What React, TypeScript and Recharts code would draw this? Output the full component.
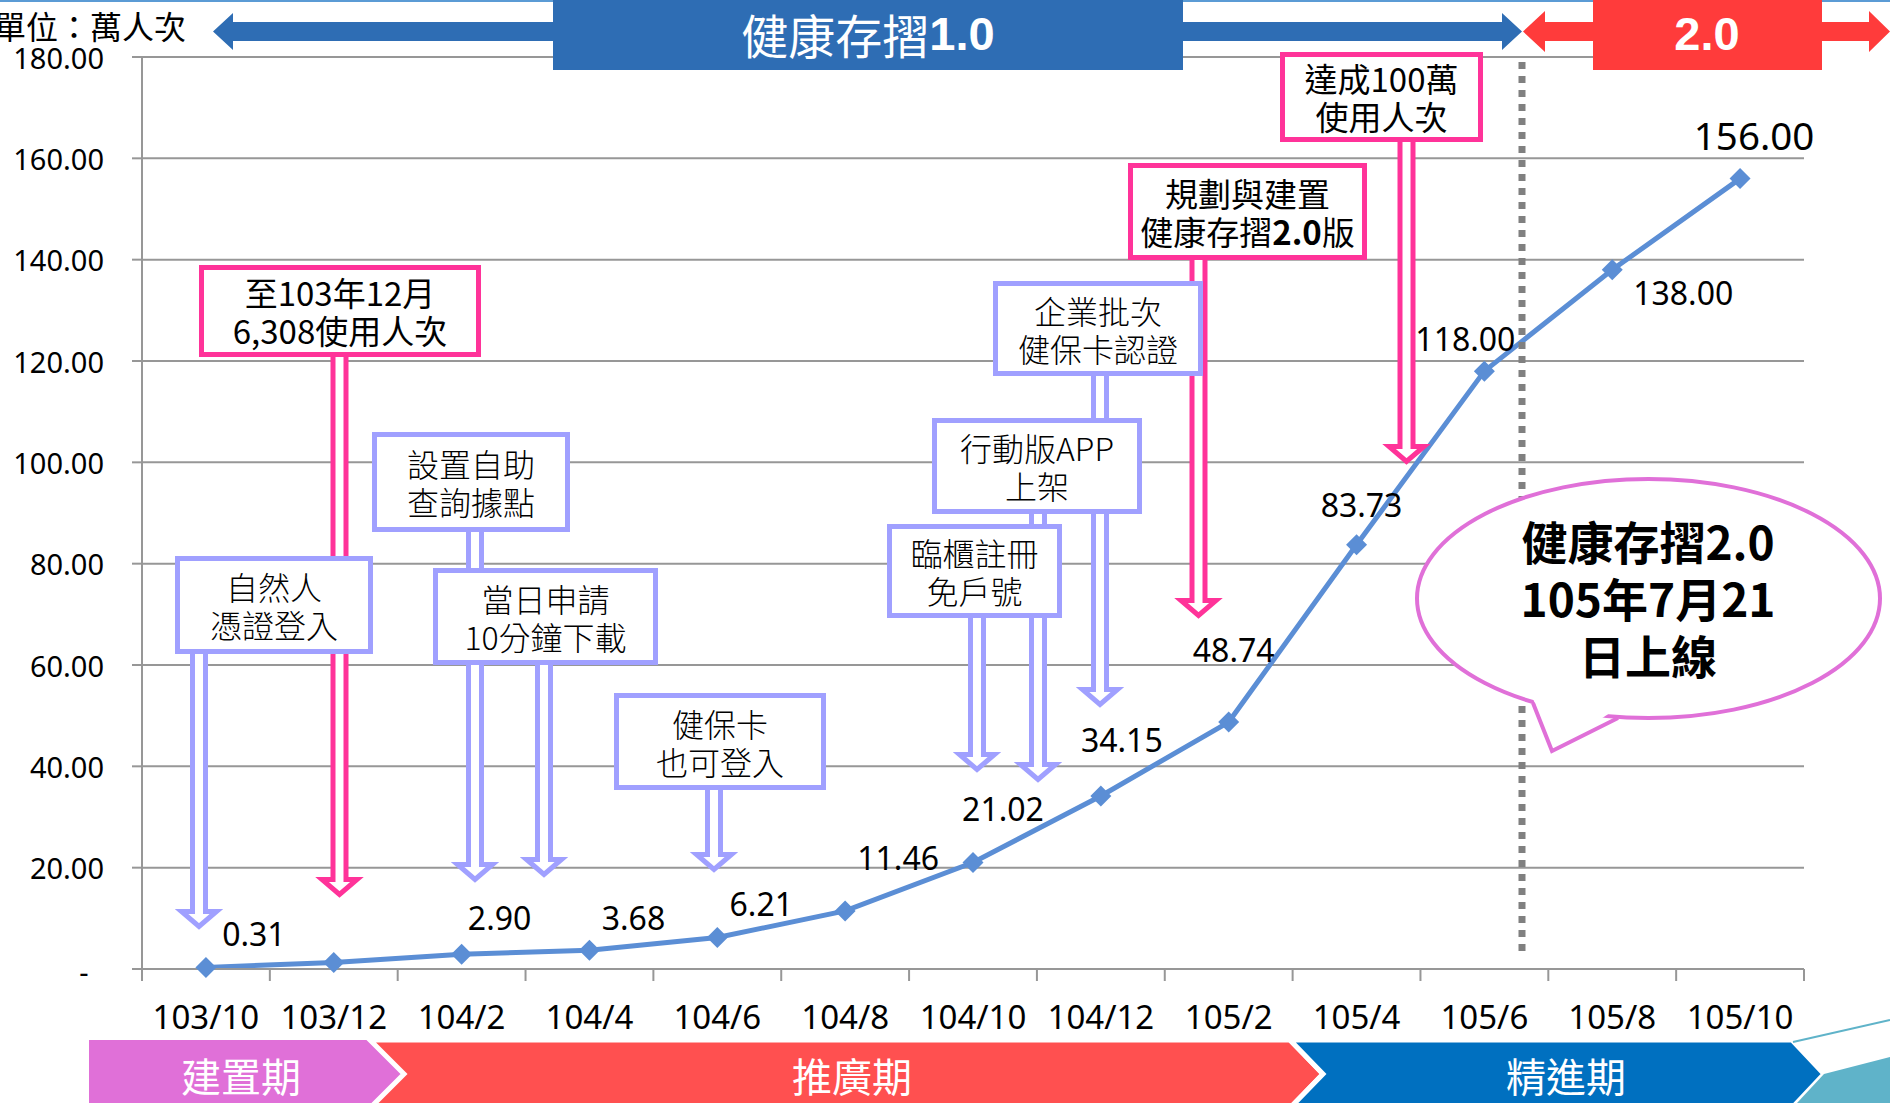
import React from 'react';
import { LineChart, Line, XAxis, YAxis, CartesianGrid, LabelList } from 'recharts';

// 健康存摺 使用人次 (萬人次)
const months = ['103/10', '103/12', '104/2', '104/4', '104/6', '104/8', '104/10', '104/12', '105/2', '105/4', '105/6', '105/8', '105/10'];
const usage = [0.31, 1.3, 2.9, 3.68, 6.21, 11.46, 21.02, 34.15, 48.74, 83.73, 118.0, 138.0, 156.0];
const labelShown = [true, false, true, true, true, true, true, true, true, true, true, true, true];
const yTicks = [0, 20, 40, 60, 80, 100, 120, 140, 160, 180];

const phases = ['建置期', '推廣期', '精進期'];

// label placement relative to each point (layout only)
const labelShift: [number, number][] = [
  [48, -34], [0, 0], [38, -37], [44, -33], [44, -34], [53, -53], [30, -54],
  [21, -56], [5, -73], [5, -40], [-19, -33], [71, 23], [14, -44],
];

const W = 1890;
const H = 1103;
const PLOT_L = 142;
const PLOT_R = 1804;
const PLOT_T = 57;
const PLOT_B = 969;
const BAND = (PLOT_R - PLOT_L) / months.length;

const LINE = '#5B8ED5';
const PINK = '#FF3399';
const LAV = '#A0A0FF';
const GRID = '#979797';
const BLUE = '#2E6DB4';
const RED = '#FF3B3B';
const CJK = '"Noto Sans CJK TC", "Noto Sans", sans-serif';
const NUM = '"Noto Sans", "Noto Sans CJK TC", sans-serif';
const ARIAL = '"Liberation Sans", Arial, sans-serif';

const data = months.map((m, i) => ({ name: m, value: usage[i] }));

type Note = {
  lines: string[];
  x: number; y: number; w: number; h: number;
  color: string;
  arrowX: number; tipY: number;
};

const notes: Note[] = [
  { lines: ['至103年12月', '6,308使用人次'], x: 199, y: 265, w: 282, h: 92, color: PINK, arrowX: 339.5, tipY: 898 },
  { lines: ['規劃與建置', '健康存摺**2.0**版'], x: 1128, y: 163, w: 239, h: 97, color: PINK, arrowX: 1198.5, tipY: 619 },
  { lines: ['達成100萬', '使用人次'], x: 1280, y: 52, w: 203, h: 90, color: PINK, arrowX: 1406.5, tipY: 465 },
  { lines: ['自然人', '憑證登入'], x: 175, y: 556, w: 198, h: 98, color: LAV, arrowX: 199, tipY: 930 },
  { lines: ['設置自助', '查詢據點'], x: 372, y: 432, w: 198, h: 100, color: LAV, arrowX: 475, tipY: 883 },
  { lines: ['當日申請', '10分鐘下載'], x: 433, y: 568, w: 225, h: 97, color: LAV, arrowX: 544, tipY: 878 },
  { lines: ['健保卡', '也可登入'], x: 614, y: 693, w: 212, h: 97, color: LAV, arrowX: 714, tipY: 873 },
  { lines: ['臨櫃註冊', '免戶號'], x: 887, y: 524, w: 175, h: 94, color: LAV, arrowX: 977, tipY: 773 },
  { lines: ['行動版APP', '上架'], x: 932, y: 418, w: 210, h: 96, color: LAV, arrowX: 1038, tipY: 783 },
  { lines: ['企業批次', '健保卡認證'], x: 993, y: 281, w: 210, h: 95, color: LAV, arrowX: 1100, tipY: 708 },
];

function arrowPath(cx: number, top: number, tip: number) {
  const sw = 6.5;
  const hw = 17.5;
  const hl = 15;
  const t = tip - 3.5;
  const hb = t - hl;
  return `M${cx - sw},${top} L${cx - sw},${hb} L${cx - hw},${hb} L${cx},${t} L${cx + hw},${hb} L${cx + sw},${hb} L${cx + sw},${top}`;
}

const Diamond = (p: any) => {
  const { cx, cy } = p;
  if (cx == null || cy == null) return null;
  const r = 10.5;
  return <polygon points={`${cx},${cy - r} ${cx + r},${cy} ${cx},${cy + r} ${cx - r},${cy}`} fill={LINE} />;
};

const ValueLabel = (p: any) => {
  const i = p.index;
  if (i == null || !labelShown[i]) return null;
  const px = p.x ?? p.viewBox?.x;
  const py = p.y ?? p.viewBox?.y;
  const [dx, dy] = labelShift[i];
  return (
    <text x={px + dx} y={py + dy} textAnchor="middle" dominantBaseline="central"
      fontFamily={NUM} fontSize={i === usage.length - 1 ? 38.5 : 32} fill="#000">
      {usage[i].toFixed(2)}
    </text>
  );
};

const YTick = (p: any) => {
  const v = p.payload.value;
  if (v === 0) {
    return <text x={84} y={p.y + 2} textAnchor="middle" dominantBaseline="central" fontFamily={NUM} fontSize={29} fill="#000">-</text>;
  }
  return (
    <text x={104} y={p.y} textAnchor="end" dominantBaseline="central" fontFamily={NUM} fontSize={29} fill="#000">
      {v.toFixed(2)}
    </text>
  );
};

const XTick = (p: any) => {
  const idx = p.index ?? p.payload.index;
  const left = p.x - BAND / 2;
  return (
    <g>
      <line x1={left} x2={left} y1={PLOT_B} y2={PLOT_B + 12} stroke={GRID} strokeWidth={2} />
      {idx === months.length - 1 && (
        <line x1={p.x + BAND / 2} x2={p.x + BAND / 2} y1={PLOT_B} y2={PLOT_B + 12} stroke={GRID} strokeWidth={2} />
      )}
      <text x={p.x} y={1016} textAnchor="middle" dominantBaseline="central" fontFamily={NUM} fontSize={33} fill="#000">
        {p.payload.value}
      </text>
    </g>
  );
};

function NoteText({ n }: { n: Note }) {
  const cx = n.x + n.w / 2;
  const cy = n.y + n.h / 2;
  const pink = n.color === PINK;
  return (
    <>
      {n.lines.map((ln, k) => (
        <text key={k} x={cx} y={cy + (k === 0 ? -19 : 19)} textAnchor="middle" dominantBaseline="central"
          fontFamily={CJK} fontSize={pink ? 33 : 32} fontWeight={pink ? 400 : 300} fill="#000">
          {ln.split('**').map((seg, j) => (
            <tspan key={j} fontWeight={j % 2 === 1 ? 700 : undefined}>{seg}</tspan>
          ))}
        </text>
      ))}
    </>
  );
}

function Overlay() {
  const ex = 1648.5, ey = 598.5, rx = 231.5, ry = 119.5;
  return (
    <svg width={W} height={H} style={{ position: 'absolute', left: 0, top: 0, pointerEvents: 'none' }}>
      {/* top border */}
      <rect x={0} y={0} width={W} height={2} fill="#5B9BD5" />

      {/* 1.0 / 2.0 banners */}
      <polygon fill={BLUE} points="213,31.5 233,13 233,22 1502,22 1502,13 1522,31.5 1502,50 1502,41 233,41 233,50" />
      <rect x={553} y={0} width={630} height={70} fill={BLUE} />
      <text x={868} y={33} textAnchor="middle" dominantBaseline="central" fill="#fff" fontFamily={CJK} fontSize={47}>
        健康存摺<tspan fontFamily={ARIAL} fontWeight={700}>1.0</tspan>
      </text>
      <polygon fill={RED} points="1523,31.5 1545,11 1545,22 1869,22 1869,11 1890,31.5 1869,52 1869,41 1545,41 1545,52" />
      <rect x={1593} y={0} width={229} height={70} fill={RED} />
      <text x={1707} y={33} textAnchor="middle" dominantBaseline="central" fill="#fff"
        fontFamily={ARIAL} fontWeight={700} fontSize={47}>2.0</text>

      <text x={-6} y={25} dominantBaseline="central" fontFamily={CJK} fontSize={32} fill="#000">單位：萬人次</text>

      {/* 1.0 -> 2.0 split */}
      <line x1={1522} x2={1522} y1={62} y2={952} stroke="#808080" strokeWidth={7} strokeDasharray="7 7" />

      {/* milestone arrows then boxes */}
      {notes.map((n, i) => (
        <path key={'a' + i} d={arrowPath(n.arrowX, n.y + n.h - 4, n.tipY)} fill="#fff" stroke={n.color} strokeWidth={5} />
      ))}
      {notes.map((n, i) => (
        <g key={'b' + i}>
          <rect x={n.x + 2.5} y={n.y + 2.5} width={n.w - 5} height={n.h - 5} fill="#fff" stroke={n.color} strokeWidth={5} />
          <NoteText n={n} />
        </g>
      ))}

      {/* callout */}
      <ellipse cx={ex} cy={ey} rx={rx} ry={ry} fill="#fff" stroke="#E070D8" strokeWidth={4} />
      <polygon points="1530,690 1552,751 1622,705" fill="#fff" />
      <polyline points="1533,703 1552,751 1618,718" fill="none" stroke="#E070D8" strokeWidth={4} strokeLinejoin="miter" />
      {['健康存摺2.0', '105年7月21', '日上線'].map((t, k) => (
        <text key={k} x={1648} y={540 + k * 57} textAnchor="middle" dominantBaseline="central"
          fontFamily={CJK} fontWeight={700} fontSize={46} fill="#000">{t}</text>
      ))}

      {/* phase band */}
      <polygon points="89,1040 370,1040 404,1074 370,1108 89,1108" fill="#E070D8" />
      <polygon points="370,1040 1290,1040 1323,1074 1290,1108 370,1108 404,1074" fill="#FF5050" stroke="#fff" strokeWidth={5} />
      <polygon points="1290,1040 1792,1040 1824,1074 1792,1108 1290,1108 1323,1074" fill="#0070C0" stroke="#fff" strokeWidth={5} />
      <line x1={1793} y1={1042} x2={1890} y2={1020} stroke="#5FB3C9" strokeWidth={2} />
      <polygon points="1824,1074 1890,1057 1890,1103 1797,1103" fill="#5FB3C9" />
      {phases.map((t, k) => (
        <text key={t} x={[241, 852, 1566][k]} y={1075} textAnchor="middle" dominantBaseline="central"
          fontFamily={CJK} fontSize={40} fill="#fff">{t}</text>
      ))}
    </svg>
  );
}

export default function App() {
  return (
    <div style={{ position: 'absolute', left: 0, top: 0, width: W, height: H, background: '#fff', overflow: 'hidden' }}>
      <LineChart width={W} height={H} data={data} margin={{ top: PLOT_T, right: W - PLOT_R, bottom: H - PLOT_B - 60, left: 0 }}>
        <CartesianGrid vertical={false} stroke={GRID} strokeWidth={2} />
        <XAxis dataKey="name" height={60} interval={0} padding={{ left: BAND / 2, right: BAND / 2 }}
          axisLine={{ stroke: GRID, strokeWidth: 2 }} tickLine={false} tick={<XTick />} />
        <YAxis width={PLOT_L} domain={[0, 180]} ticks={yTicks} interval={0} tickSize={10}
          axisLine={{ stroke: GRID, strokeWidth: 2 }} tickLine={{ stroke: GRID, strokeWidth: 2 }} tick={<YTick />} />
        <Line type="linear" dataKey="value" stroke={LINE} strokeWidth={5} dot={<Diamond />} activeDot={false}
          isAnimationActive={false}>
          <LabelList dataKey="value" content={<ValueLabel />} />
        </Line>
      </LineChart>
      <Overlay />
    </div>
  );
}
